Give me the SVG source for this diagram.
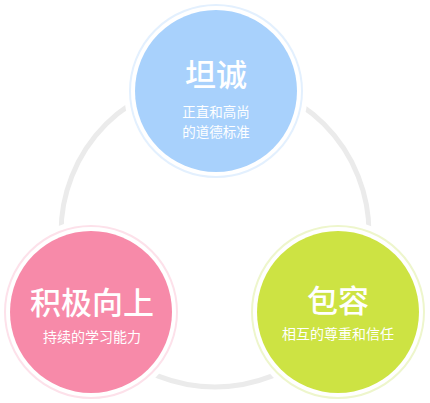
<svg xmlns="http://www.w3.org/2000/svg" width="430" height="403" viewBox="0 0 430 403">
<style>
.t{font-family:"Noto Sans CJK SC","Noto Sans",sans-serif;fill:#fff;text-anchor:middle}
.h{font-size:31px;font-weight:500}
.s{font-size:14px}
.s2{font-size:13.5px}
.gap{fill:#fff}
</style>
<rect width="430" height="403" fill="#fff"/>
<g id="connectors">
<circle cx="215" cy="233" r="154" fill="none" stroke="#ebebeb" stroke-width="5"/>
</g>
<g id="node-tanchen">
<circle class="gap" cx="216" cy="91" r="92"/>
<circle cx="216" cy="91" r="86" fill="none" stroke="#e3f0fe" stroke-width="2"/>
<circle cx="216" cy="91" r="81" fill="#a8d1fc"/>
<text class="t h" x="216" y="86">坦诚</text>
<text class="t s2" x="216" y="117">正直和高尚</text>
<text class="t s2" x="216" y="137">的道德标准</text>
</g>
<g id="node-jiji">
<circle class="gap" cx="91" cy="312" r="92"/>
<circle cx="91" cy="312" r="86" fill="none" stroke="#fde1ea" stroke-width="2"/>
<circle cx="91" cy="312" r="81" fill="#f78aa9"/>
<text class="t h" x="92" y="314">积极向上</text>
<text class="t s" x="92" y="342">持续的学习能力</text>
</g>
<g id="node-baorong">
<circle class="gap" cx="338" cy="312" r="92"/>
<circle cx="338" cy="312" r="86" fill="none" stroke="#eef6cc" stroke-width="2"/>
<circle cx="338" cy="312" r="81" fill="#cde343"/>
<text class="t h" x="338" y="312">包容</text>
<text class="t s" x="338" y="339">相互的尊重和信任</text>
</g>
</svg>
